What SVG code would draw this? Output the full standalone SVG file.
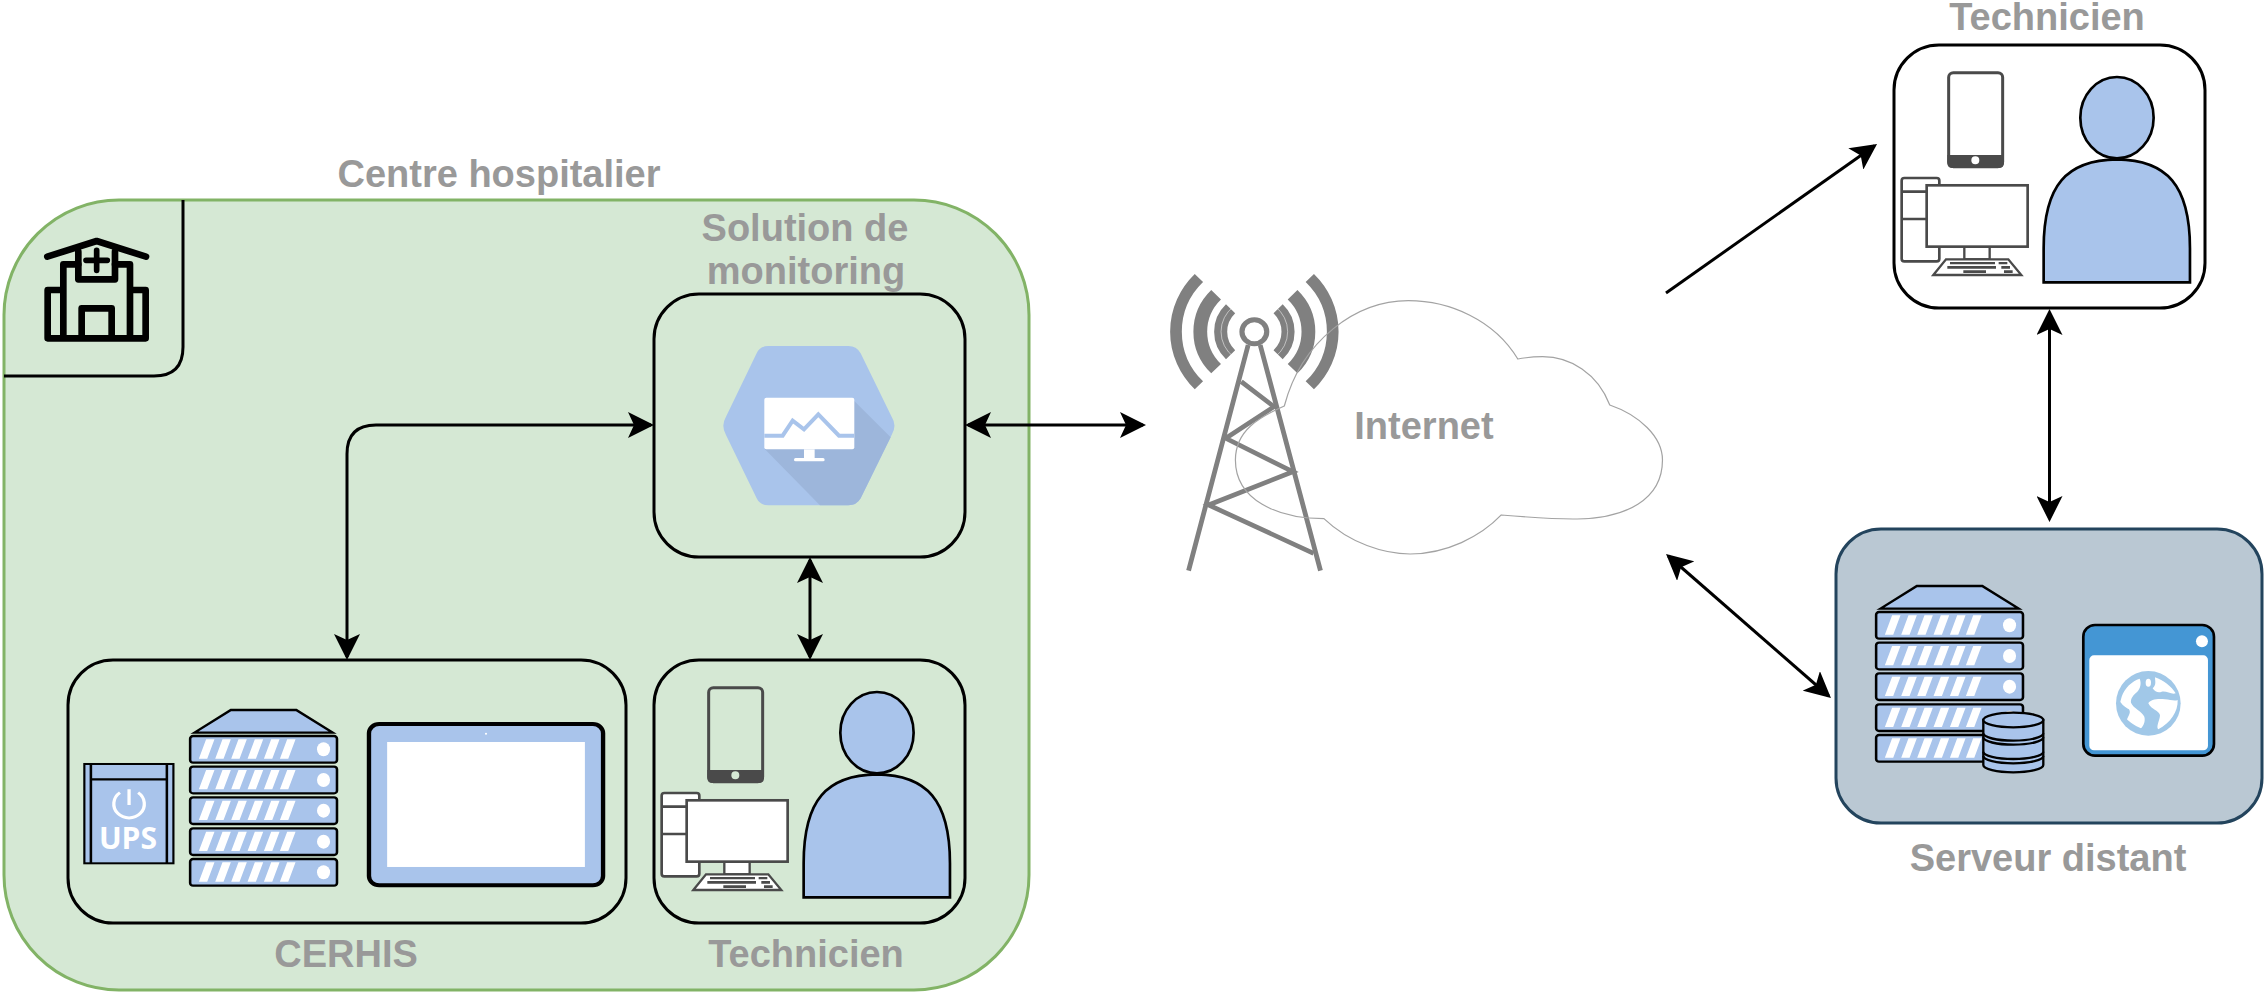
<svg xmlns="http://www.w3.org/2000/svg" xmlns:xlink="http://www.w3.org/1999/xlink" width="2267" height="996" viewBox="0 0 2267 996">
<style>
.lbl{font-family:"Liberation Sans",Arial,sans-serif;font-weight:bold;font-size:38px;fill:#999;text-anchor:middle}
.box{stroke:#000;stroke-width:3;fill:none}
.con{fill:none;stroke:#000;stroke-width:3}
.blue{fill:#a9c4eb}
.srvk{fill:#a9c4eb;stroke:#000;stroke-width:7}
.dev{stroke:#4a4a4a;fill:none}
.devw{stroke:#4a4a4a;fill:#fff}
.wave{fill:none;stroke:#808080}
.tw{fill:none;stroke:#808080;stroke-width:14}
</style>
<defs>
<marker id="arr" markerUnits="userSpaceOnUse" markerWidth="26" markerHeight="26" viewBox="0 0 26 26" refX="23" refY="13" orient="auto-start-reverse">
<path d="M26 13 L0 0 L6 13 L0 26 Z" fill="#000"/>
</marker>
<g id="row">
<rect class="srvk" x="358" y="0" width="404" height="80" rx="8"/>
<path fill="#fff" d="M382 68 L402 10 H425 L405 68Z M427 68 L447 10 H470 L450 68Z M471 68 L491 10 H514 L494 68Z M516 68 L536 10 H559 L539 68Z M561 68 L581 10 H604 L584 68Z M605 68 L625 10 H648 L628 68Z"/>
<ellipse cx="725" cy="40" rx="18" ry="21" fill="#fff"/>
</g>
<g id="srv">
<path class="srvk" d="M370 248 L470 180 H650 L750 248Z"/>
<use xlink:href="#row" href="#row" y="258"/>
<use xlink:href="#row" href="#row" y="350"/>
<use xlink:href="#row" href="#row" y="442"/>
<use xlink:href="#row" href="#row" y="535"/>
<use xlink:href="#row" href="#row" y="627"/>
</g>
<g id="techicons">
<rect class="dev" stroke-width="9" x="206" y="113" width="162" height="282" rx="14"/>
<path fill="#4a4a4a" fill-rule="evenodd" d="M202 360 H372 V384 Q372 399 357 399 H217 Q202 399 202 384Z M298 376 A12 12 0 1 0 274 376 A12 12 0 1 0 298 376Z"/>
<rect class="devw" stroke-width="8" x="65" y="429" width="113" height="250" rx="8"/>
<path class="dev" stroke-width="8" d="M65 470 H140 M65 552 H140"/>
<rect class="devw" stroke-width="7" x="253" y="635" width="76" height="38"/>
<rect class="devw" stroke-width="8" x="140" y="451" width="303" height="184"/>
<path class="devw" stroke-width="7" d="M160 720 L198 673 H385 L424 720Z"/>
<path fill="#4a4a4a" d="M210 681h135v7h-135z M356 681h26v7h-26z M202 693h146v8h-146z M364 693h26v8h-26z M250 706h68v8h-68z M372 706h26v8h-26z"/>
<ellipse class="blue" cx="711" cy="248" rx="110" ry="122" stroke="#000" stroke-width="8"/>
<path class="blue" stroke="#000" stroke-width="8" d="M491 742 V640 C491 450 560 375 711 373 C860 375 930 450 930 640 V742Z"/>
</g>
</defs>

<g id="centre-hospitalier">
<rect x="4" y="200" width="1025" height="790" rx="115" fill="#d5e8d4" stroke="#82b366" stroke-width="3"/>
<path d="M183 200 V347 Q183 376 154 376 H4" fill="none" stroke="#000" stroke-width="3"/>
<g transform="translate(0 140) scale(.3333)" fill="none" stroke="#000" stroke-width="20" stroke-linejoin="round" stroke-linecap="round">
<path d="M142 350 L290 303 L438 350"/>
<path d="M235 335 V418 H345 V335"/>
<path d="M258 361 H322 M290 331 V391" stroke-width="17"/>
<path d="M190 590 V373 H235 M390 590 V373 H345 M190 450 H143 V595 H437 V450 H390 M245 590 V505 H335 V590"/>
</g>
<text class="lbl" x="499" y="187">Centre hospitalier</text>
</g>

<g id="solution-monitoring">
<rect class="box" x="654" y="294" width="311" height="263" rx="45"/>
<g transform="translate(640 280) scale(.3333)">
<path class="blue" d="M385 198 H625 Q650 198 662 220 L755 410 Q772 437 755 465 L662 655 Q650 676 625 676 H385 Q360 676 350 655 L258 465 Q242 437 258 410 L350 220 Q360 198 385 198Z"/>
<path fill="#9db6db" d="M642 362 L752 472 L662 655 Q650 676 625 676 H540 L375 508Z"/>
<rect x="373" y="353" width="270" height="155" rx="6" fill="#fff"/>
<path d="M373 467 H428 L458 422 L492 448 L535 403 L597 467 H643" fill="none" stroke="#a9c4eb" stroke-width="12"/>
<rect x="492" y="508" width="32" height="30" fill="#fff"/>
<rect x="462" y="534" width="92" height="10" rx="5" fill="#fff"/>
</g>
<text class="lbl" x="805" y="241">Solution de</text>
<text class="lbl" x="806" y="284">monitoring</text>
</g>

<g id="cerhis">
<rect class="box" x="68" y="660" width="558" height="263" rx="45"/>
<g transform="translate(60 650) scale(.3635 .3333)">
<rect class="blue" x="67" y="342" width="245" height="298" stroke="#000" stroke-width="6"/>
<path d="M85 342 V640 M294 342 V640 M85 388 H294" stroke="#000" stroke-width="7" fill="none"/>
<path d="M165 428 A42 42 0 1 0 215 428 M190 418 V465" fill="none" stroke="#fff" stroke-width="9"/>
<text x="187" y="598" textLength="160" lengthAdjust="spacingAndGlyphs" font-family="'Open Sans','Liberation Sans',sans-serif" font-weight="bold" font-size="92" fill="#fff" text-anchor="middle">UPS</text>
<use xlink:href="#srv" href="#srv"/>
<rect x="850" y="222" width="644" height="484" rx="28" class="blue" stroke="#000" stroke-width="12"/>
<rect x="900" y="276" width="544" height="375" fill="#fff"/>
<circle cx="1172" cy="251" r="3" fill="#fff"/>
</g>
<text class="lbl" x="346" y="967">CERHIS</text>
</g>

<g id="technicien-local">
<rect class="box" x="654" y="660" width="311" height="263" rx="45"/>
<use xlink:href="#techicons" href="#techicons" transform="translate(640 650) scale(.3333)"/>
<text class="lbl" x="806" y="967">Technicien</text>
</g>

<g id="internet">
<g transform="translate(1150 260) scale(.3444 .3333)">
<path class="tw" stroke-width="15" d="M285 255 L112 932 M320 255 L495 932"/>
<path class="tw" d="M265 365 L360 440 L220 535 L415 635 L170 735 L475 880"/>
<g transform="translate(303 215)">
<circle r="36" fill="#fff" stroke="#808080" stroke-width="15"/>
<path class="wave" stroke-width="38" d="M-69 -69 A97 97 0 0 0 -69 69 M69 -69 A97 97 0 0 1 69 69"/>
<path class="wave" stroke-width="40" d="M-111 -111 A157 157 0 0 0 -111 111 M111 -111 A157 157 0 0 1 111 111"/>
<path class="wave" stroke-width="34" d="M-161 -161 A228 228 0 0 0 -161 161 M161 -161 A228 228 0 0 1 161 161"/>
<path fill="none" stroke="#fff" stroke-width="1.5" d="M-60 -76 A97 97 0 0 0 -60 76 M60 -76 A97 97 0 0 1 60 76"/>
</g>
<path fill="none" stroke="#a3a3a3" stroke-width="3.5" d="M505 776 C580 850 680 882 755 882 C860 882 960 830 1020 765 C1100 772 1180 778 1240 777 C1380 775 1488 720 1488 600 C1488 530 1420 465 1335 435 C1300 340 1220 290 1140 290 C1115 290 1090 293 1068 297 C1000 180 870 122 750 122 C600 122 440 240 390 438 C320 470 248 510 248 600 C248 720 370 776 505 776Z"/>
</g>
<text class="lbl" x="1424" y="439">Internet</text>
</g>

<g id="technicien-distant">
<rect class="box" x="1894" y="45" width="311" height="263" rx="45"/>
<use xlink:href="#techicons" href="#techicons" transform="translate(1880 35) scale(.3333)"/>
<text class="lbl" x="2047" y="30">Technicien</text>
</g>

<g id="serveur-distant">
<rect x="1836" y="529" width="426" height="294" rx="45" fill="#bac8d3" stroke="#23445d" stroke-width="3"/>
<g transform="translate(1686 -124)"><use xlink:href="#srv" href="#srv" transform="translate(60 650) scale(.3635 .3333)"/></g>
<g transform="translate(1830 520) scale(.3333)">
<path class="srvk" stroke-width="8" d="M460 600 V735 A90 22 0 0 0 640 735 V600Z"/>
<path fill="none" stroke="#000" stroke-width="7" d="M460 640 A90 22 0 0 0 640 640 M460 652 A90 22 0 0 0 640 652 M460 695 A90 22 0 0 0 640 695 M460 708 A90 22 0 0 0 640 708"/>
<ellipse class="srvk" stroke-width="8" cx="550" cy="600" rx="90" ry="22"/>
<rect x="760" y="315" width="392" height="392" rx="35" fill="#4496d4" stroke="#000" stroke-width="8"/>
<rect x="778" y="406" width="356" height="285" rx="14" fill="#fff"/>
<circle cx="1116" cy="364" r="18" fill="#fff"/>
</g>
<g transform="translate(2105 660) scale(.3333)">
<circle cx="130" cy="130" r="97" fill="#a1c8e8"/>
<path fill="#fff" d="M50 110 C58 85 82 62 104 56 C110 70 106 85 97 95 C85 105 76 115 78 128 C85 145 112 155 118 170 C122 185 115 198 108 205 C90 198 72 185 66 178 C72 165 78 158 72 148 C60 142 48 130 46 125Z"/>
<ellipse cx="130" cy="68" rx="8" ry="12" fill="#fff"/>
<path fill="#fff" d="M150 52 C175 60 200 80 212 100 C200 105 185 92 170 95 C160 100 150 95 143 85 C155 75 150 62 150 52Z"/>
<path fill="#fff" d="M218 120 C220 155 195 190 160 208 C152 200 165 180 165 165 C160 150 140 150 130 130 C135 118 160 115 180 118 C195 118 208 125 218 120Z"/>
</g>
<text class="lbl" x="2048" y="871">Serveur distant</text>
</g>

<g id="connectors">
<path class="con" marker-start="url(#arr)" marker-end="url(#arr)" d="M651 425 H376 Q347 425 347 454 V657"/>
<path class="con" marker-start="url(#arr)" marker-end="url(#arr)" d="M810 560 V657"/>
<path class="con" marker-start="url(#arr)" marker-end="url(#arr)" d="M968 425 H1143"/>
<path class="con" marker-end="url(#arr)" d="M1666 293 L1874.6 145.7"/>
<path class="con" marker-start="url(#arr)" marker-end="url(#arr)" d="M2049.5 312 V519"/>
<path class="con" marker-start="url(#arr)" marker-end="url(#arr)" d="M1668.3 556 L1828.7 696"/>
</g>
</svg>
